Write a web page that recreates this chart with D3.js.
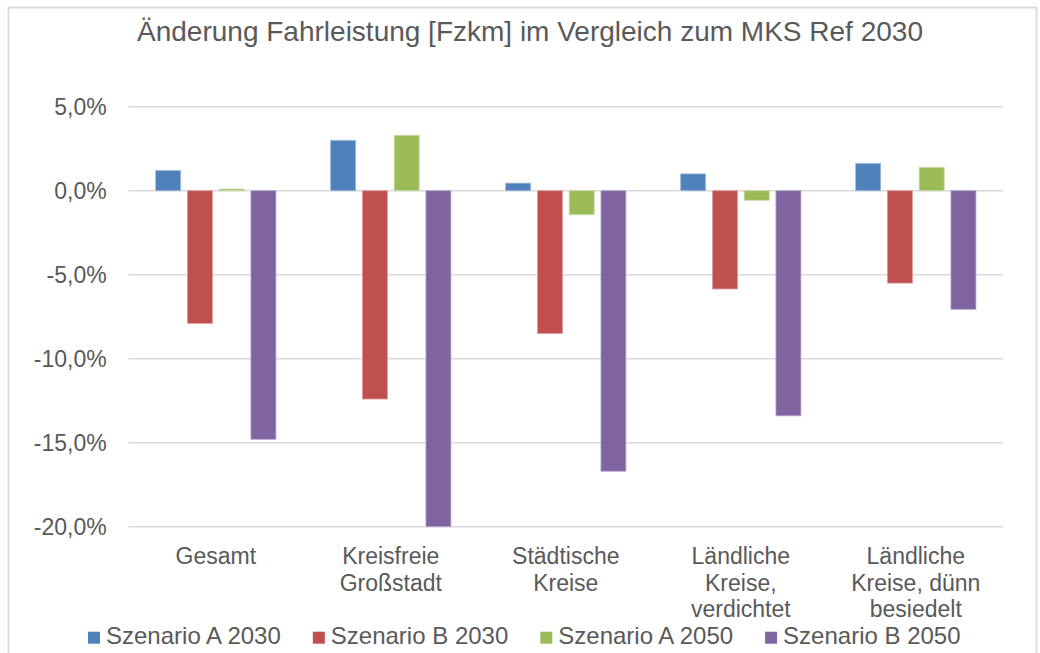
<!DOCTYPE html>
<html>
<head>
<meta charset="utf-8">
<script src="https://cdn.jsdelivr.net/npm/d3@7"></script>
<style>
  html, body { margin: 0; padding: 0; background: #fff; }
  svg { display: block; font-family: "Liberation Sans", Arial, sans-serif; }
</style>
</head>
<body>
<svg id="chart" width="1040" height="653"></svg>
<script>
// Region types (x axis), with explicit line breaks for the axis labels
const categories = ["Gesamt", "Kreisfreie Großstadt", "Städtische Kreise",
  "Ländliche Kreise, verdichtet", "Ländliche Kreise, dünn besiedelt"];
const categoryLines = [
  ["Gesamt"],
  ["Kreisfreie", "Großstadt"],
  ["Städtische", "Kreise"],
  ["Ländliche", "Kreise,", "verdichtet"],
  ["Ländliche", "Kreise, dünn", "besiedelt"]
];

// Scenario series, change in vehicle-km vs. MKS Ref 2030 (percent)
const seriesNames = ["Szenario A 2030", "Szenario B 2030", "Szenario A 2050", "Szenario B 2050"];
const szenarioA2030 = [1.2, 3.0, 0.45, 1.0, 1.63];
const szenarioB2030 = [-7.9, -12.4, -8.5, -5.85, -5.5];
const szenarioA2050 = [0.1, 3.3, -1.43, -0.57, 1.39];
const szenarioB2050 = [-14.8, -20.0, -16.7, -13.4, -7.06];
const seriesValues = [szenarioA2030, szenarioB2030, szenarioA2050, szenarioB2050];

const yTicks = [5, 0, -5, -10, -15, -20];
const colors = ["#4F81BD", "#C0504D", "#9BBB59", "#8064A2"];

const svg = d3.select("#chart");
const textColor = "#595959";
const gridColor = "#D9D9D9";

// Chart frame
svg.append("path")
  .attr("d", "M8.5,653 V7.5 H1036.5 V653")
  .attr("fill", "none")
  .attr("stroke", gridColor)
  .attr("stroke-width", 1.8);

// Title
svg.append("text")
  .attr("x", 530).attr("y", 41)
  .attr("text-anchor", "middle")
  .attr("font-size", 28)
  .attr("fill", textColor)
  .text("Änderung Fahrleistung [Fzkm] im Vergleich zum MKS Ref 2030");

// Scales
const plotLeft = 128.3, plotRight = 1003.3;
const y = d3.scaleLinear().domain([-20, 5]).range([526.7, 106.7]);
const x0 = d3.scaleBand().domain(categories).range([plotLeft, plotRight]).padding(0);
const x1 = d3.scaleBand().domain(seriesNames).range([0, x0.bandwidth()])
  .paddingInner(0.2126).paddingOuter(0.862);

// Gridlines
svg.append("g").selectAll("line").data(yTicks).join("line")
  .attr("x1", plotLeft).attr("x2", plotRight)
  .attr("y1", d => y(d)).attr("y2", d => y(d))
  .attr("stroke", gridColor).attr("stroke-width", 1.4);

// Y axis labels
const fmt = v => d3.format(".1f")(v).replace("−", "-").replace(".", ",") + "%";
const yAxis = d3.axisLeft(y).tickValues(yTicks).tickSize(0).tickPadding(21.6).tickFormat(fmt);
const yAxisG = svg.append("g").attr("transform", `translate(${plotLeft},0)`).call(yAxis);
yAxisG.select(".domain").remove();
yAxisG.selectAll("text")
  .attr("font-size", 23)
  .attr("font-family", "Liberation Sans, Arial, sans-serif")
  .attr("fill", textColor);

// Bars
const barData = [];
categories.forEach((c, i) => {
  seriesNames.forEach((s, j) => {
    barData.push({ cat: c, series: s, value: seriesValues[j][i], color: colors[j] });
  });
});
svg.append("g").selectAll("rect").data(barData).join("rect")
  .attr("x", d => x0(d.cat) + x1(d.series))
  .attr("width", x1.bandwidth())
  .attr("y", d => y(Math.max(0, d.value)))
  .attr("height", d => Math.abs(y(d.value) - y(0)))
  .attr("fill", d => d.color)
  .attr("stroke", d => d3.interpolateRgb(d.color, "#ffffff")(0.45))
  .attr("stroke-width", 0.8);

// Category labels
const catG = svg.append("g");
categories.forEach((c, i) => {
  const cx = x0(c) + x0.bandwidth() / 2;
  const t = catG.append("text")
    .attr("text-anchor", "middle")
    .attr("font-size", 23)
    .attr("fill", textColor);
  categoryLines[i].forEach((line, k) => {
    t.append("tspan").attr("x", cx).attr("y", 564 + k * 26.5).text(line);
  });
});

// Legend
const legend = svg.append("g").attr("transform", "translate(88,0)");
let lx = 0;
seriesNames.forEach((s, j) => {
  const g = legend.append("g");
  g.append("rect").attr("x", 0).attr("y", -12.3).attr("width", 12).attr("height", 12)
    .attr("fill", colors[j]);
  const t = g.append("text").attr("x", 18).attr("y", 0)
    .attr("font-size", 24).attr("fill", textColor).text(s);
  const w = 18 + t.node().getComputedTextLength();
  g.attr("transform", `translate(${lx},644)`);
  lx += w + 32;
});
</script>
</body>
</html>
